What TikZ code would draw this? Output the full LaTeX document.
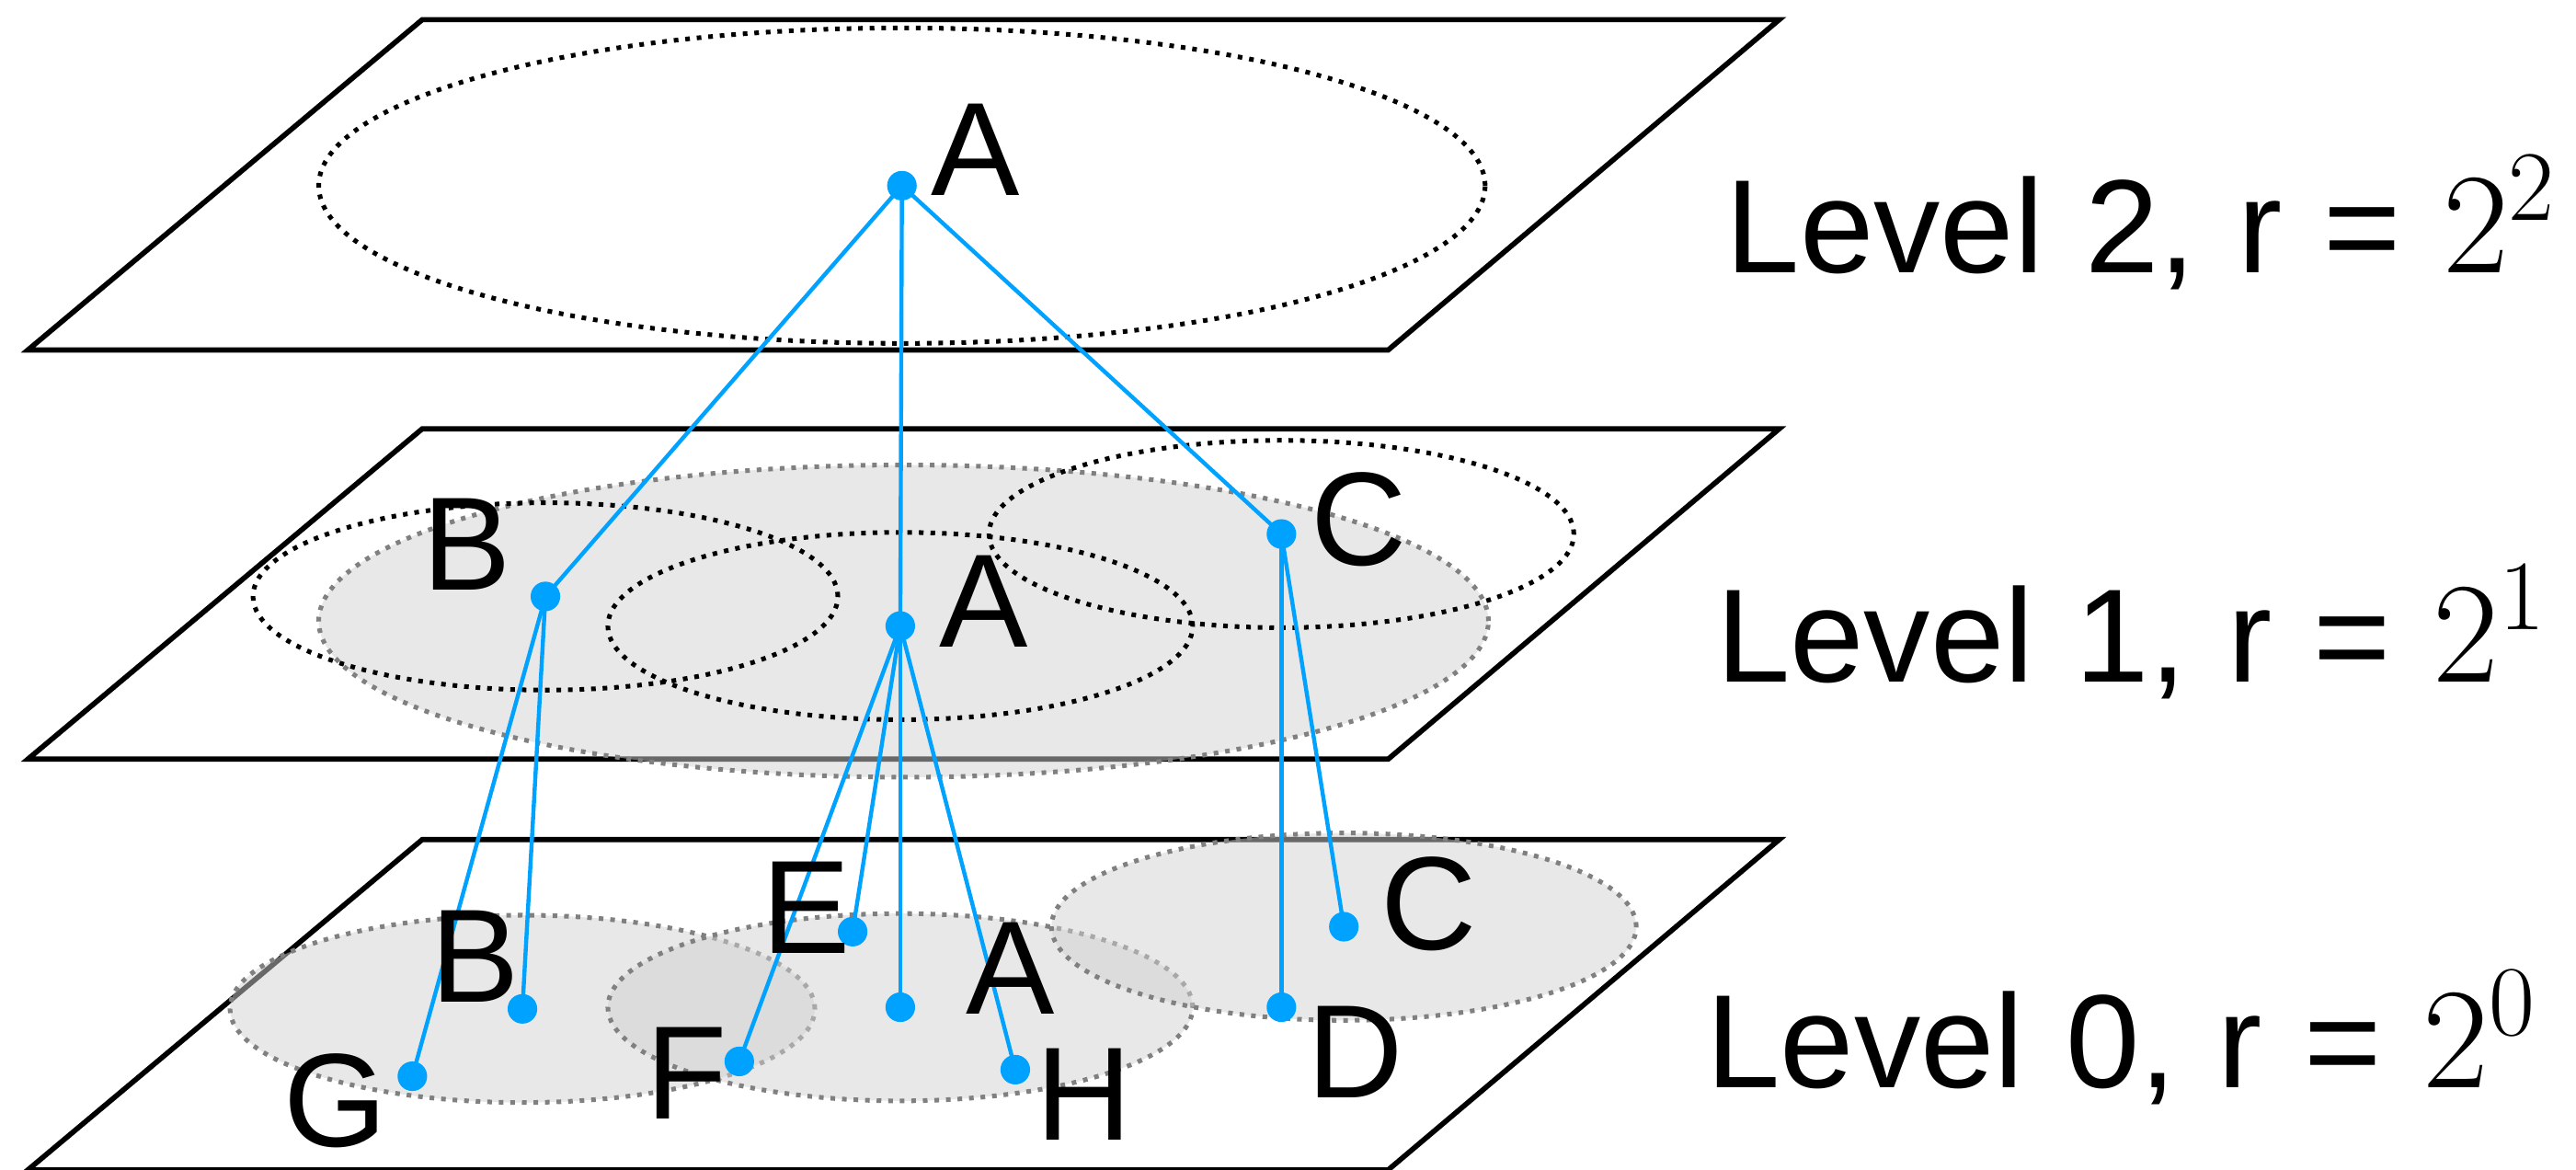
\documentclass[tikz,border=0pt]{standalone}
\usepackage{fontspec}
\usepackage{tikz}
\usetikzlibrary{backgrounds}
\newfontfamily\lvlfont{Liberation Sans}
\newcommand\lvlspacing{\spaceskip=7.2pt\relax}
\definecolor{linkblue}{RGB}{0,162,255}
\definecolor{rimgray}{RGB}{128,128,128}

\begin{document}
\begin{tikzpicture}[x=0.01cm, y=0.01cm,
    plane/.style={draw=black, line width=0.9pt},
    cover/.style={draw=black, line width=0.8pt, dash pattern=on 0.8pt off 1.2pt},
    region/.style={draw=rimgray, fill=black!18, fill opacity=0.5, line width=0.8pt, dash pattern=on 0.8pt off 1.2pt},
    vtx/.style={circle, fill=linkblue, inner sep=0pt, minimum size=0.18cm},
    link/.style={draw=linkblue, line width=0.7pt},
    lbl/.style={font=\lvlfont\fontsize{23}{27}\selectfont, inner sep=0pt, anchor=base},
    lvl/.style={font=\lvlfont\fontsize{23}{27}\selectfont, inner sep=0pt, anchor=base west}]
    \useasboundingbox (0,0) rectangle (1568,712);

    % points of the three levels
    \node [vtx] (a2) at (549,599) {};
    \node [vtx] (b1) at (332,349) {};
    \node [vtx] (a1) at (548,331) {};
    \node [vtx] (c1) at (780,387) {};
    \node [vtx] (b0) at (318,98) {};
    \node [vtx] (g0) at (251,57) {};
    \node [vtx] (e0) at (519,145) {};
    \node [vtx] (a0) at (548,99) {};
    \node [vtx] (f0) at (450,66) {};
    \node [vtx] (h0) at (618,61) {};
    \node [vtx] (c0) at (818,148) {};
    \node [vtx] (d0) at (780,99) {};

    % letters
    \node [lbl] (la2) at (594,593) {A};
    \node [lbl] (lb1) at (284,353) {B};
    \node [lbl] (la1) at (599,318) {A};
    \node [lbl] (lc1) at (827,368) {C};
    \node [lbl] (lb0) at (289,102) {B};
    \node [lbl] (le0) at (491,132) {E};
    \node [lbl] (la0) at (615,95) {A};
    \node [lbl] (lg0) at (204,14) {G};
    \node [lbl] (lf0) at (418,31) {F};
    \node [lbl] (lh0) at (660,18) {H};
    \node [lbl] (lc0) at (870,134) {C};
    \node [lbl] (ld0) at (825,44) {D};

    \node [lvl] (lv2) at (1050,546) {\lvlspacing Level 2, r = $2^2$};
    \node [lvl] (lv1) at (1044,297) {\lvlspacing Level 1, r = $2^1$};
    \node [lvl] (lv0) at (1038,50) {\lvlspacing Level 0, r = $2^0$};

    \begin{scope}[on background layer]
        % planes
        \draw [plane] (17,499) -- (845,499) -- (1083,700) -- (257,700) -- cycle;
        \draw [plane] (17,250) -- (845,250) -- (1083,451) -- (257,451) -- cycle;
        \draw [plane] (17,0) -- (845,0) -- (1083,201) -- (257,201) -- cycle;

        % covering regions
        \draw [cover] (a2) ellipse [x radius=355, y radius=96];
        \draw [region] (550,334) ellipse [x radius=356, y radius=95];
        \draw [cover] (b1) ellipse [x radius=178, y radius=57];
        \draw [cover] (a1) ellipse [x radius=178, y radius=57];
        \draw [cover] (c1) ellipse [x radius=178, y radius=57];
        \draw [region] (b0) ellipse [x radius=178, y radius=57];
        \draw [region] (a0) ellipse [x radius=178, y radius=57];
        \draw [region] (c0) ellipse [x radius=178, y radius=57];

        % parent links
        \foreach \p/\c in {a2/b1, a2/a1, a2/c1, b1/b0, b1/g0, a1/e0, a1/a0, a1/f0, a1/h0, c1/c0, c1/d0}
            \draw [link] (\p.center) -- (\c.center);
    \end{scope}
\end{tikzpicture}
\end{document}
